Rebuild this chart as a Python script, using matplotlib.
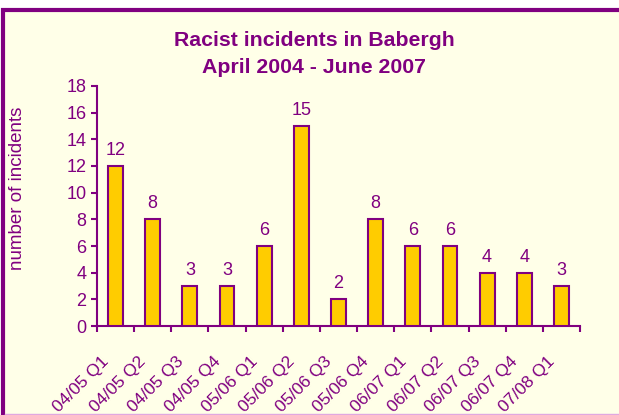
import matplotlib
matplotlib.use('Agg')
import matplotlib.pyplot as plt
import matplotlib.transforms as mtransforms
from matplotlib.patches import Rectangle
from matplotlib.lines import Line2D
import numpy as np

# data
quarters = ['04/05 Q1', '04/05 Q2', '04/05 Q3', '04/05 Q4',
            '05/06 Q1', '05/06 Q2', '05/06 Q3', '05/06 Q4',
            '06/07 Q1', '06/07 Q2', '06/07 Q3', '06/07 Q4',
            '07/08 Q1']
incidents = [12, 8, 3, 3, 6, 15, 2, 8, 6, 6, 4, 4, 3]

purple = '#800080'
gold = '#FFCC00'
cream = '#FFFFE8'

plt.rcParams['font.family'] = ['Liberation Sans', 'DejaVu Sans']

W, H = 619, 415
fig = plt.figure(figsize=(W / 100, H / 100), dpi=100)
fig.patch.set_facecolor('white')

# 背景框
frame = Rectangle((3 / W, (H - 418) / H), (640 - 3) / W, (418 - 10.5) / H,
                  transform=fig.transFigure, facecolor=cream, edgecolor=purple,
                  linewidth=3, zorder=-10)
fig.patches.append(frame)
fig.lines.append(Line2D([5 / W, 1], [1.5 / H, 1.5 / H], transform=fig.transFigure,
                        color='#E0A8E0', linewidth=1, zorder=-9))

ax = fig.add_axes([97 / W, (H - 326) / H, (580 - 97) / W, 240 / H])
ax.set_facecolor('none')

x = np.arange(len(quarters))
bars = ax.bar(x, incidents, width=0.4, color=gold, edgecolor=purple, linewidth=1.5, zorder=3)

for xi, v in zip(x, incidents):
    ax.annotate(str(v), (xi, v), xytext=(0, 5), textcoords='offset points',
                ha='center', va='bottom', color=purple, fontsize=13)

ax.set_xlim(-0.5, len(quarters) - 0.5)
ax.set_ylim(0, 18)
ax.set_yticks(range(0, 19, 2))

ax.set_xticks(x)
ax.set_xticklabels(quarters, rotation=45, ha='right', va='center',
                   rotation_mode='anchor', color=purple, fontsize=12.5)
ax.set_xticks(np.arange(-0.5, len(quarters), 1), minor=True)
ax.tick_params(axis='x', which='major', length=0, pad=24)
ax.tick_params(axis='x', which='minor', length=4.5, width=1.5, color=purple, direction='out')
ax.tick_params(axis='y', length=4.5, width=1.5, color=purple, labelcolor=purple,
               labelsize=13, pad=3)

# 标签左移一点
shift = mtransforms.ScaledTranslation(-9 / 100, 0, fig.dpi_scale_trans)
for lab in ax.get_xticklabels():
    lab.set_transform(lab.get_transform() + shift)

for s in ['top', 'right']:
    ax.spines[s].set_visible(False)
for s in ['left', 'bottom']:
    ax.spines[s].set_color(purple)
    ax.spines[s].set_linewidth(1.5)

fig.text(18 / W, (H - 188) / H, 'number of incidents', rotation=90, ha='center', va='center',
         color=purple, fontsize=13.5)

fig.text(314 / W, (H - 46) / H, 'Racist incidents in Babergh', ha='center', va='baseline',
         color=purple, fontsize=15.3, fontweight='bold')
fig.text(314 / W, (H - 73) / H, 'April 2004 - June 2007', ha='center', va='baseline',
         color=purple, fontsize=15.3, fontweight='bold')

fig.savefig('out.png', dpi=100)
